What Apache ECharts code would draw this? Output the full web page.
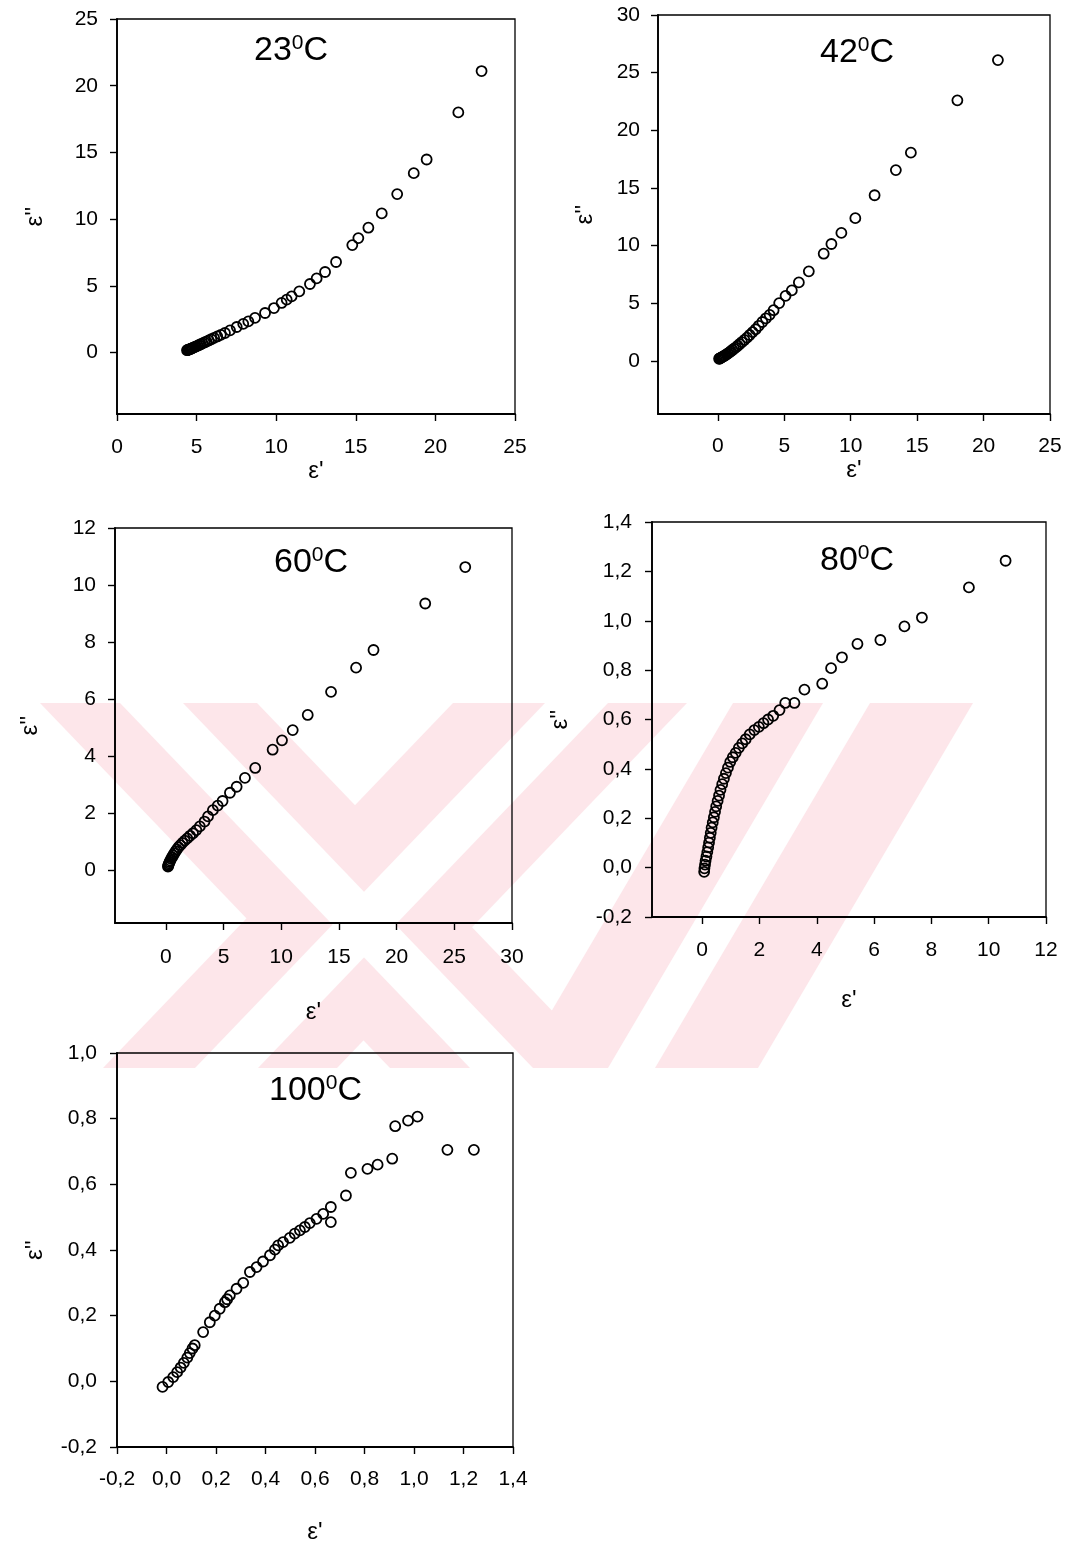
<!DOCTYPE html>
<html>
<head>
<meta charset="utf-8">
<script src="https://cdn.jsdelivr.net/npm/echarts@6/dist/echarts.min.js"></script>
<style>
  html, body { margin: 0; padding: 0; background: #fff; }
  #chart { width: 1076px; height: 1550px; }
</style>
</head>
<body>
<div id="chart"></div>
<script>
// Dielectric loss ε'' against permittivity ε' at five temperatures
const temps = ['23', '42', '60', '80', '100'];

const eps23 = [
  [22.9,21.1],[21.44,18.0],[19.45,14.47],[18.64,13.45],[17.6,11.88],[16.63,10.43],[15.79,9.36],
  [15.16,8.58],[14.78,8.06],[13.76,6.79],[13.07,6.04],[12.54,5.56],[12.12,5.14],[11.45,4.59],
  [10.97,4.22],[10.66,3.97],[10.34,3.72],[9.86,3.34],[9.3,2.97],[8.67,2.6],[8.25,2.34],[7.93,2.15],
  [7.52,1.92],[7.1,1.67],[6.78,1.47],[6.52,1.33],[6.3,1.21],[6.1,1.1],[5.92,1.0],[5.76,0.91],
  [5.62,0.83],[5.49,0.76],[5.37,0.69],[5.26,0.63],[5.16,0.57],[5.07,0.52],[4.98,0.47],[4.9,0.43],
  [4.83,0.39],[4.76,0.35],[4.7,0.32],[4.64,0.29],[4.59,0.26],[4.54,0.24],[4.5,0.22],[4.46,0.2],
  [4.43,0.19],[4.4,0.18]
];

const eps42 = [
  [21.08,26.09],[18.03,22.6],[14.53,18.06],[13.4,16.55],[11.8,14.37],[10.35,12.38],[9.3,11.1],
  [8.55,10.14],[7.97,9.3],[6.85,7.77],[6.1,6.81],[5.57,6.12],[5.1,5.65],[4.62,5.02],[4.2,4.4],
  [3.9,4.0],[3.62,3.7],[3.35,3.38],[3.08,3.05],[2.85,2.75],[2.62,2.5],[2.4,2.25],[2.2,2.02],
  [2.0,1.82],[1.82,1.64],[1.65,1.47],[1.5,1.32],[1.36,1.18],[1.22,1.06],[1.1,0.95],[0.98,0.84],
  [0.87,0.75],[0.77,0.66],[0.67,0.58],[0.58,0.51],[0.5,0.45],[0.42,0.4],[0.35,0.35],[0.29,0.31],
  [0.23,0.27],[0.18,0.24],[0.14,0.21],[0.1,0.19]
];

const eps60 = [
  [25.95,10.63],[22.48,9.35],[18.0,7.72],[16.49,7.1],[14.32,6.25],[12.3,5.44],[11.0,4.91],
  [10.07,4.55],[9.26,4.22],[7.75,3.58],[6.86,3.23],[6.14,2.92],[5.56,2.71],[4.92,2.42],[4.5,2.26],
  [4.08,2.1],[3.66,1.88],[3.36,1.7],[2.95,1.53],[2.65,1.4],[2.36,1.29],[2.1,1.2],[1.86,1.11],
  [1.64,1.03],[1.44,0.95],[1.26,0.87],[1.1,0.8],[0.96,0.72],[0.84,0.65],[0.73,0.58],[0.63,0.51],
  [0.54,0.45],[0.46,0.39],[0.39,0.33],[0.33,0.28],[0.28,0.23],[0.24,0.19],[0.21,0.15],[0.19,0.12]
];

const eps80 = [
  [10.59,1.243],[9.31,1.135],[7.67,1.013],[7.06,0.977],[6.22,0.922],[5.42,0.906],[4.88,0.852],
  [4.5,0.808],[4.19,0.745],[3.57,0.721],[3.22,0.667],[2.9,0.667],[2.7,0.638],[2.48,0.615],
  [2.3,0.6],[2.14,0.585],[1.98,0.57],[1.82,0.557],[1.66,0.54],[1.52,0.52],[1.4,0.503],
  [1.28,0.485],[1.17,0.465],[1.07,0.447],[0.98,0.428],[0.9,0.405],[0.83,0.383],[0.76,0.36],
  [0.7,0.338],[0.64,0.315],[0.59,0.292],[0.54,0.27],[0.49,0.248],[0.45,0.226],[0.41,0.204],
  [0.37,0.183],[0.33,0.162],[0.3,0.141],[0.27,0.121],[0.24,0.101],[0.21,0.082],[0.18,0.063],
  [0.15,0.045],[0.12,0.028],[0.1,0.012],[0.08,-0.003],[0.07,-0.017]
];

const eps100 = [
  [-0.016,-0.017],[0.007,-0.002],[0.027,0.013],[0.043,0.028],[0.057,0.042],[0.07,0.056],
  [0.084,0.072],[0.094,0.086],[0.105,0.1],[0.114,0.11],[0.148,0.15],[0.175,0.18],[0.195,0.2],
  [0.215,0.221],[0.236,0.241],[0.245,0.25],[0.256,0.262],[0.283,0.282],[0.31,0.3],[0.337,0.333],
  [0.364,0.348],[0.39,0.365],[0.418,0.384],[0.438,0.401],[0.451,0.414],[0.471,0.424],[0.498,0.437],
  [0.518,0.45],[0.539,0.46],[0.559,0.47],[0.579,0.482],[0.606,0.495],[0.633,0.51],[0.664,0.531],
  [0.664,0.485],[0.725,0.566],[0.745,0.635],[0.812,0.647],[0.853,0.66],[0.912,0.678],[0.924,0.777],
  [0.976,0.794],[1.014,0.806],[1.135,0.705],[1.242,0.705]
];

// Tick values shown on each axis
const ticksX42 = [0, 5, 10, 15, 20, 25];
const ticksY23 = [0, 5, 10, 15, 20, 25];
const ticksY42 = [0, 5, 10, 15, 20, 25, 30];
const ticksX60 = [0, 5, 10, 15, 20, 25, 30];
const ticksY60 = [0, 2, 4, 6, 8, 10, 12];
const ticksX80 = [0, 2, 4, 6, 8, 10, 12];

const FONT = '"Liberation Sans", Arial, sans-serif';
const comma = v => (Math.round(v * 10) / 10).toFixed(1).replace('.', ',');

const grids = [
  { left: 117, top: 19, width: 398, height: 395 },
  { left: 658, top: 15, width: 392, height: 399 },
  { left: 115, top: 528, width: 397, height: 395 },
  { left: 652, top: 522, width: 394, height: 395 },
  { left: 117, top: 1053, width: 396, height: 394 }
].map(g => Object.assign(g, { show: true, borderColor: '#000', borderWidth: 1.3, backgroundColor: 'transparent' }));

function axis(idx, o) {
  const base = {
    gridIndex: idx,
    type: 'value',
    splitLine: { show: false },
    axisLine: { show: true, onZero: false, lineStyle: { color: '#000', width: 1.8 } },
    axisTick: { show: true, inside: false, length: 7, lineStyle: { color: '#000', width: 1.4 } },
    axisLabel: { color: '#000', fontFamily: FONT, fontSize: 21 },
    nameLocation: 'middle',
    nameTextStyle: { color: '#000', fontFamily: FONT, fontSize: 24 }
  };
  const r = Object.assign({}, base, o);
  r.axisLabel = Object.assign({}, base.axisLabel, o.axisLabel || {});
  r.axisTick = Object.assign({}, base.axisTick, o.axisTick || {});
  return r;
}

const xAxes = [
  axis(0, { min: 0, max: 25, interval: 5, name: "ε'", nameGap: 42, axisLabel: { margin: 23 } }),
  axis(1, { min: -4.5, max: 25, name: "ε'", nameGap: 34,
    axisTick: { customValues: ticksX42 }, axisLabel: { margin: 22, customValues: ticksX42 } }),
  axis(2, { min: -4.4, max: 30, name: "ε'", nameGap: 77,
    axisTick: { customValues: ticksX60 }, axisLabel: { margin: 24, customValues: ticksX60 } }),
  axis(3, { min: -1.75, max: 12, name: "ε'", nameGap: 71,
    axisTick: { customValues: ticksX80 }, axisLabel: { margin: 23, customValues: ticksX80 } }),
  axis(4, { min: -0.2, max: 1.4, interval: 0.2, name: "ε'", nameGap: 73,
    axisLabel: { margin: 22, formatter: comma } })
];

const yAxes = [
  axis(0, { min: -4.6, max: 25, name: "ε''", nameGap: 70,
    axisTick: { customValues: ticksY23 }, axisLabel: { margin: 19, customValues: ticksY23 } }),
  axis(1, { min: -4.6, max: 30, name: "ε''", nameGap: 61,
    axisTick: { customValues: ticksY42 }, axisLabel: { margin: 18, customValues: ticksY42 } }),
  axis(2, { min: -1.86, max: 12, name: "ε''", nameGap: 73,
    axisTick: { customValues: ticksY60 }, axisLabel: { margin: 19, customValues: ticksY60 } }),
  axis(3, { min: -0.2, max: 1.4, interval: 0.2, name: "ε''", nameGap: 80,
    axisLabel: { margin: 20, formatter: comma } }),
  axis(4, { min: -0.2, max: 1.0, interval: 0.2, name: "ε''", nameGap: 70,
    axisLabel: { margin: 20, formatter: comma } })
];

const datasets = [eps23, eps42, eps60, eps80, eps100];
const series = datasets.map((d, i) => ({
  type: 'scatter',
  xAxisIndex: i,
  yAxisIndex: i,
  data: d,
  symbol: 'circle',
  symbolSize: 10,
  itemStyle: { color: 'rgba(0,0,0,0)', borderColor: '#000', borderWidth: 1.8, opacity: 1 },
  emphasis: { disabled: true },
  animation: false
}));

// Temperature captions with a raised degree zero
const titlePos = [[254, 33], [820, 35], [274, 545], [820, 543], [269, 1073]];
const title = temps.map((t, i) => ({
  text: '{a|' + t + '}{b|0}{a|C}',
  left: titlePos[i][0],
  top: titlePos[i][1],
  padding: 0,
  textStyle: {
    fontWeight: 'normal',
    rich: {
      a: { fontFamily: FONT, fontSize: 34, fontWeight: 'normal', lineHeight: 36, color: '#000' },
      b: { fontFamily: FONT, fontSize: 21, fontWeight: 'normal', lineHeight: 18, verticalAlign: 'top', color: '#000' }
    }
  }
}));

// Faint pink emblem printed across the middle of the page
const PINK = '#fde6ea';
const band = (x0, x1, dx) => [[x0, 703], [x1, 703], [x1 + dx, 1068], [x0 + dx, 1068]];
const emblem = [
  { pts: band(40, 257, 350), fill: PINK },
  { pts: band(453, 687, -350), fill: PINK },
  { pts: band(733, 973, -215), fill: PINK },
  { pts: band(120, 183, 350), fill: '#fff' },
  { pts: band(545, 608, -350), fill: '#fff' },
  { pts: band(823, 870, -215), fill: '#fff' }
].map(s => ({
  type: 'polygon',
  silent: true,
  z: -10,
  shape: { points: s.pts },
  style: { fill: s.fill }
}));

const chart = echarts.init(document.getElementById('chart'), null, { renderer: 'canvas' });
chart.setOption({
  animation: false,
  backgroundColor: '#fff',
  graphic: emblem,
  title: title,
  grid: grids,
  xAxis: xAxes,
  yAxis: yAxes,
  series: series
});
</script>
</body>
</html>
